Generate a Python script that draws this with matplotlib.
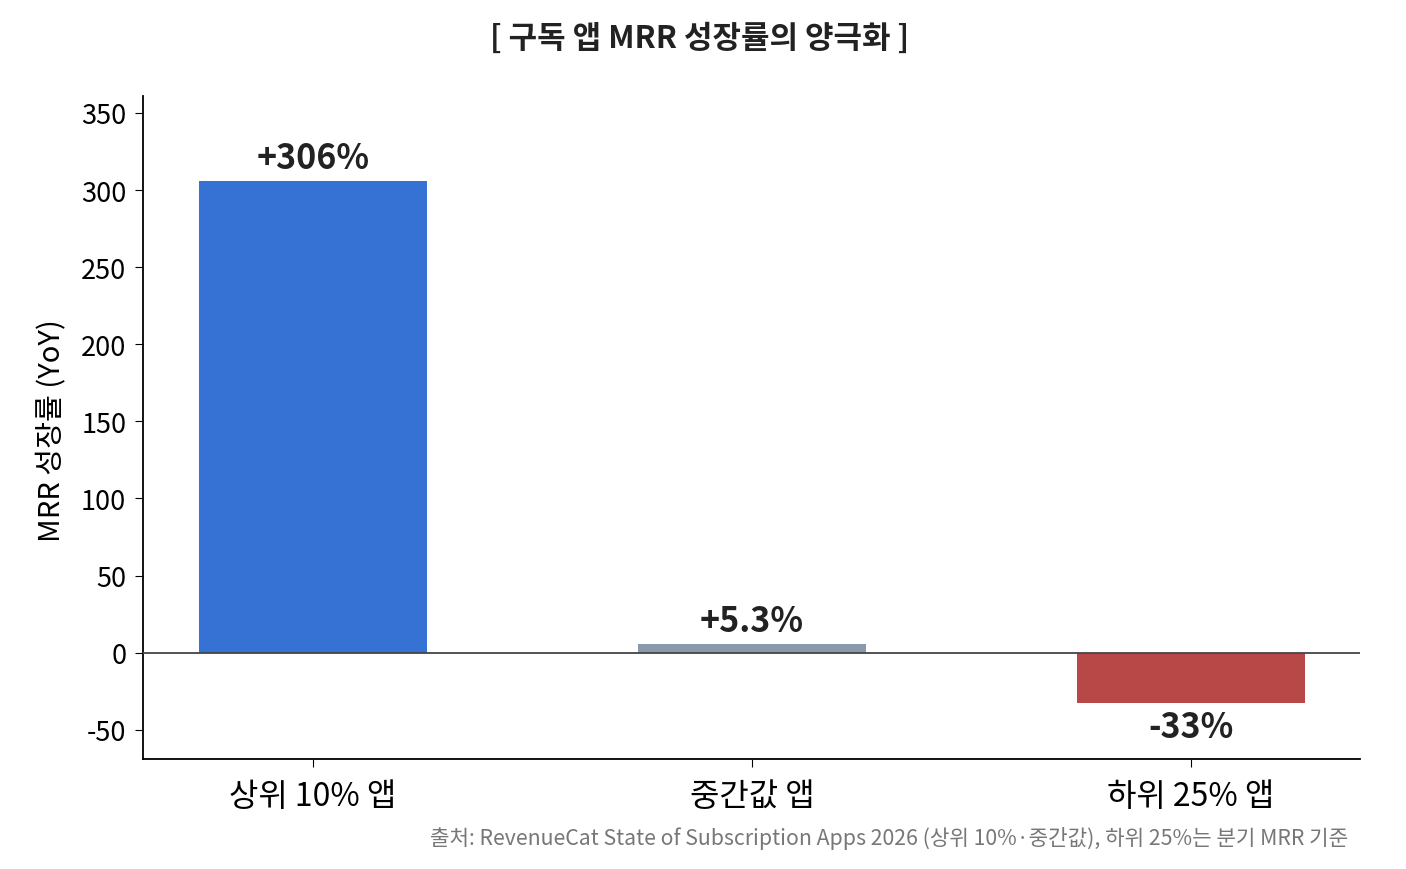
import matplotlib
matplotlib.use("Agg")
import matplotlib.pyplot as plt

plt.rcParams['font.family'] = ['Noto Sans CJK KR', 'DejaVu Sans']
plt.rcParams['axes.unicode_minus'] = False

categories = ["상위 10% 앱", "중간값 앱", "하위 25% 앱"]
values = [306, 5.3, -33]
labels = ["+306%", "+5.3%", "-33%"]
colors = ["#3572D4", "#8A9AAA", "#B84747"]
yticks = [-50, 0, 50, 100, 150, 200, 250, 300, 350]

fig = plt.figure(figsize=(14.06, 8.7), dpi=100)
ax = fig.add_axes([143/1406, 1-760/870, (1360-143)/1406, (760-97)/870])

x = list(range(len(categories)))
ax.bar(x, values, width=0.52, color=colors, zorder=2)
ax.axhline(0, color="#444444", linewidth=1.3, zorder=3)

for xi, v, lab in zip(x, values, labels):
    if v >= 0:
        ax.text(xi, v + 4, lab, ha="center", va="bottom", fontsize=24.5, fontweight="bold", color="#222222")
    else:
        ax.text(xi, v - 3.5, lab, ha="center", va="top", fontsize=24.5, fontweight="bold", color="#222222")

ax.set_xlim(-0.387, 2.385)
ax.set_ylim(-69, 361)
ax.set_yticks(yticks)
ax.set_xticks(x)
ax.set_xticklabels(categories, fontsize=23)
ax.tick_params(axis='y', labelsize=19.5, length=6, pad=6)
ax.tick_params(axis='x', length=6, pad=9)
ax.spines['top'].set_visible(False)
ax.spines['right'].set_visible(False)
ax.spines['left'].set_linewidth(1.3)
ax.spines['bottom'].set_linewidth(1.3)
ax.set_ylabel("MRR 성장률 (YoY)", fontsize=21)
ax.yaxis.set_label_coords(-0.063, 0.497)

fig.text(700/1406, 1-39/870, "[ 구독 앱 MRR 성장률의 양극화 ]", ha="center", va="center",
         fontsize=22.3, fontweight="bold", color="#222222")
fig.text(1348/1406, 1-839/870,
         "출처: RevenueCat State of Subscription Apps 2026 (상위 10%·중간값), 하위 25%는 분기 MRR 기준",
         ha="right", va="center", fontsize=15.3, color="#777777")

fig.savefig("out.png", dpi=100)
